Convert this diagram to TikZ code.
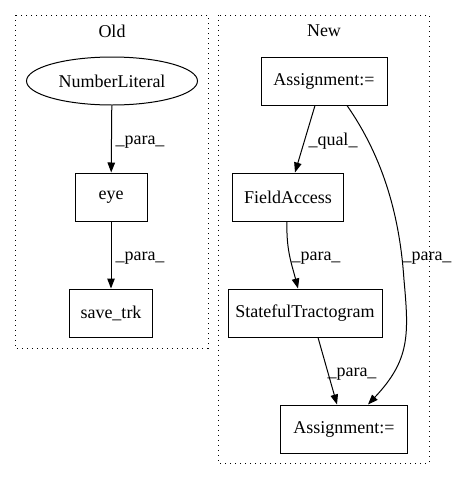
\documentclass[tikz,border=0pt]{standalone}
\usepackage{fontspec}
\setmainfont{Liberation Serif}
\usetikzlibrary{arrows.meta,calc,shapes.geometric}
\begin{document}
\begin{tikzpicture}[x=1pt,y=-1pt,
  every node/.style={font=\fontsize{18}{21}\selectfont, inner sep=0pt},
  box/.style={draw, rectangle, line width=1pt, minimum height=48pt},
  oval/.style={draw, ellipse, line width=1pt, minimum height=48pt},
  cluster/.style={draw, line width=1pt, dash pattern=on 1.3pt off 3.7pt},
  edge/.style={line width=1pt, -{Triangle[length=10pt,width=7.5pt]}},
  lbl/.style={font=\fontsize{18}{21}\selectfont}]
\useasboundingbox (0,0) rectangle (455,480);
% clusters
\draw[cluster] (15,15) rectangle (208,348);
\draw[cluster] (218,15) rectangle (429,463);
\node (told) at (112,31) {Old};
\node (tnew) at (324,31) {New};
% Old
\node[oval, minimum width=171pt] (nl) at (112,81) {NumberLiteral};
\node[box, minimum width=72pt] (eye) at (111,197) {eye};
\node[box, minimum width=83pt] (save) at (111,313) {save\_trk};
\draw[edge] (nl) -- (eye);
\draw[edge] (eye) -- (save);
\node[lbl] (l1) at (140,142) {\_para\_};
\node[lbl] (l2) at (140,258) {\_para\_};
% New
\node[box, minimum width=126pt] (a1) at (324,81) {Assignment:=};
\node[box, minimum width=111pt] (fa) at (288,197) {FieldAccess};
\node[box, minimum width=154pt] (st) at (305,313) {StatefulTractogram};
\node[box, minimum width=127pt] (a2) at (344,429) {Assignment:=};
\draw[edge] ($(a1.south)+(-9,0)$) -- ($(fa.north)+(7,0)$);
\draw[edge] ($(fa.south)+(-1,0)$) .. controls (286,250) and (292,265) .. ($(st.north)+(-7,0)$);
\draw[edge] ($(st.south)+(13,0)$) -- ($(a2.north)+(-7,0)$);
\draw[edge] ($(a1.south)+(23,0)$) .. controls (385,160) and (400,220) .. (404,280) .. controls (409,335) and (410,360) .. ($(a2.north)+(24,0)$);
\node[lbl] (l3) at (333,141) {\_qual\_};
\node[lbl] (l4) at (316,258) {\_para\_};
\node[lbl] (l5) at (427,258) {\_para\_};
\node[lbl] (l6) at (352,374) {\_para\_};
\end{tikzpicture}
\end{document}
